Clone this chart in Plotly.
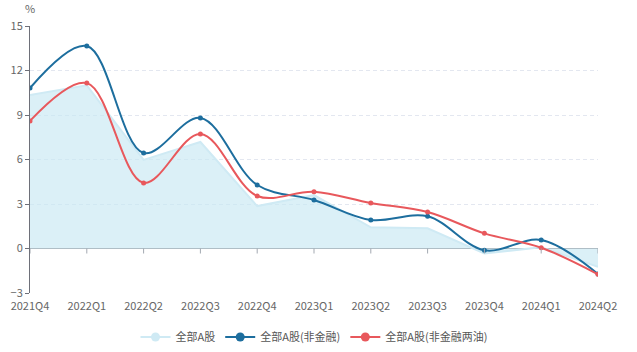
import plotly.graph_objects as go

categories = ["2021Q4", "2022Q1", "2022Q2", "2022Q3", "2022Q4", "2023Q1",
              "2023Q2", "2023Q3", "2023Q4", "2024Q1", "2024Q2"]
all_a = [10.35, 11.0, 5.97, 7.18, 2.86, 3.6, 1.43, 1.36, -0.33, 0.08, -1.23]
non_fin = [10.82, 13.65, 6.44, 8.8, 4.28, 3.27, 1.92, 2.17, -0.12, 0.57, -1.72]
non_fin_oil = [8.6, 11.15, 4.42, 7.72, 3.54, 3.83, 3.07, 2.46, 1.02, 0.05, -1.74]
y_ticks = [-3, 0, 3, 6, 9, 12, 15]

names = ["全部A股", "全部A股(非金融)", "全部A股(非金融两油)"]
c_area_line = "#cfeaf4"
c_area_fill = "rgba(200,232,242,0.65)"
c_blue = "#1d6e9e"
c_red = "#e8585c"
FONT = "Noto Sans CJK SC"

xi = list(range(len(categories)))
fig = go.Figure()

fig.add_trace(go.Scatter(x=xi, y=all_a, mode="lines", fill="tozeroy",
                         fillcolor=c_area_fill, line=dict(color=c_area_line, width=2),
                         showlegend=False, hoverinfo="skip"))
fig.add_trace(go.Scatter(x=xi, y=non_fin, mode="lines+markers",
                         line=dict(color=c_blue, width=2, shape="spline", smoothing=1.0),
                         marker=dict(color=c_blue, size=5), showlegend=False))
fig.add_trace(go.Scatter(x=xi, y=non_fin_oil, mode="lines+markers",
                         line=dict(color=c_red, width=2, shape="spline", smoothing=1.0),
                         marker=dict(color=c_red, size=5), showlegend=False))

# legend entries
for n, c in zip(names, [c_area_line, c_blue, c_red]):
    fig.add_trace(go.Scatter(x=[None], y=[None], mode="lines+markers", name=n,
                             line=dict(color=c, width=2), marker=dict(color=c, size=9)))

# category ticks on the zero line
shapes = []
for i in xi:
    shapes.append(dict(type="line", xref="x", yref="y", x0=i, x1=i,
                       ysizemode="pixel", yanchor=0, y0=0, y1=-5,
                       line=dict(color="#a3a9b1", width=1)))

fig.update_layout(
    width=637, height=352,
    margin=dict(l=30, r=39, t=26, b=59, autoexpand=False),
    paper_bgcolor="white", plot_bgcolor="white",
    font=dict(family=FONT, size=11, color="#666"),
    shapes=shapes,
    legend=dict(orientation="h", x=0.5, xanchor="center", y=-0.165, yanchor="middle",
                font=dict(size=11, color="#555"), itemwidth=30, tracegroupgap=0),
    annotations=[dict(text="%", x=0, y=1, xref="paper", yref="paper",
                      xanchor="center", yanchor="bottom", yshift=8, showarrow=False,
                      font=dict(size=11, color="#666"))],
)
fig.update_xaxes(range=[0, 10], tickmode="array", tickvals=xi, ticktext=categories,
                 showgrid=False, zeroline=False, showline=False,
                 ticks="outside", ticklen=3, tickcolor="rgba(0,0,0,0)", automargin=False,
                 tickfont=dict(size=11, color="#666"))
fig.update_yaxes(range=[-3, 15], tickmode="array", tickvals=y_ticks, automargin=False,
                 showgrid=True, gridcolor="#e3e7f0", griddash="4px,3px", gridwidth=1,
                 zeroline=True, zerolinecolor="#a3a9b1", zerolinewidth=1,
                 showline=True, linecolor="#6e7079", linewidth=1,
                 ticks="outside", ticklen=4, tickcolor="#6e7079",
                 tickfont=dict(size=11, color="#666"))

fig.write_html("out.html")
